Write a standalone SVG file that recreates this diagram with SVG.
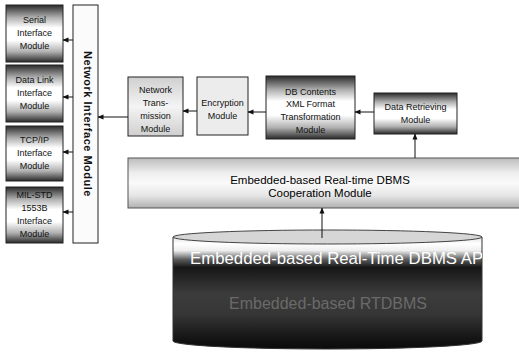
<svg xmlns="http://www.w3.org/2000/svg" width="519" height="359" viewBox="0 0 519 359">
  <defs>
    <linearGradient id="gDark" x1="0" y1="0" x2="0" y2="1">
      <stop offset="0" stop-color="#2a2a2a"/>
      <stop offset="0.22" stop-color="#b0b0b0"/>
      <stop offset="0.4" stop-color="#ffffff"/>
      <stop offset="0.62" stop-color="#ffffff"/>
      <stop offset="0.82" stop-color="#b0b0b0"/>
      <stop offset="1" stop-color="#2a2a2a"/>
    </linearGradient>
    <linearGradient id="gLight" x1="0" y1="0" x2="0" y2="1">
      <stop offset="0" stop-color="#cfcfcf"/>
      <stop offset="0.5" stop-color="#f4f4f4"/>
      <stop offset="1" stop-color="#cfcfcf"/>
    </linearGradient>
    <linearGradient id="gCoop" x1="0" y1="0" x2="0" y2="1">
      <stop offset="0" stop-color="#bcbcbc"/>
      <stop offset="0.3" stop-color="#eeeeee"/>
      <stop offset="0.5" stop-color="#fafafa"/>
      <stop offset="0.75" stop-color="#e6e6e6"/>
      <stop offset="1" stop-color="#b0b0b0"/>
    </linearGradient>
    <linearGradient id="gDb" gradientUnits="userSpaceOnUse" x1="0" y1="237" x2="0" y2="350">
      <stop offset="0" stop-color="#e4e4e4"/>
      <stop offset="0.06" stop-color="#ffffff"/>
      <stop offset="0.12" stop-color="#eeeeee"/>
      <stop offset="0.2" stop-color="#5a5a5a"/>
      <stop offset="0.27" stop-color="#161616"/>
      <stop offset="0.5" stop-color="#3c3c3c"/>
      <stop offset="0.68" stop-color="#363636"/>
      <stop offset="0.9" stop-color="#141414"/>
      <stop offset="1" stop-color="#0a0a0a"/>
    </linearGradient>
    <clipPath id="dbClip">
      <rect x="173" y="230" width="309" height="125"/>
    </clipPath>
    <marker id="arr" markerWidth="6" markerHeight="6" refX="5.5" refY="3" orient="auto" markerUnits="userSpaceOnUse">
      <path d="M0,0.5 L6,3 L0,5.5 Z" fill="#111"/>
    </marker>
    <style>
      .box { stroke: #222; stroke-width: 1; }
      .t { font-family: "Liberation Sans", Arial, sans-serif; font-size: 9px; fill: #111; text-anchor: middle; }
      .big { font-family: "Liberation Sans", Arial, sans-serif; font-size: 11.5px; fill: #000; text-anchor: middle; }
      .conn { stroke: #111; stroke-width: 1; fill: none; marker-end: url(#arr); }
    </style>
  </defs>

  <rect width="519" height="359" fill="#ffffff"/>

  <!-- interface modules on the left -->
  <g id="serial">
    <rect class="box" x="6" y="5" width="57" height="57" fill="url(#gDark)"/>
    <text class="t" x="34.5" y="23">Serial</text>
    <text class="t" x="34.5" y="36">Interface</text>
    <text class="t" x="34.5" y="49">Module</text>
  </g>
  <g id="datalink">
    <rect class="box" x="6" y="65" width="57" height="57" fill="url(#gDark)"/>
    <text class="t" x="34.5" y="83">Data Link</text>
    <text class="t" x="34.5" y="96">Interface</text>
    <text class="t" x="34.5" y="109">Module</text>
  </g>
  <g id="tcpip">
    <rect class="box" x="6" y="126" width="57" height="55" fill="url(#gDark)"/>
    <text class="t" x="34.5" y="143">TCP/IP</text>
    <text class="t" x="34.5" y="156">Interface</text>
    <text class="t" x="34.5" y="169">Module</text>
  </g>
  <g id="milstd">
    <rect class="box" x="6" y="187" width="57" height="56" fill="url(#gDark)"/>
    <text class="t" x="34.5" y="198">MIL-STD</text>
    <text class="t" x="34.5" y="211">1553B</text>
    <text class="t" x="34.5" y="224">Interface</text>
    <text class="t" x="34.5" y="237">Module</text>
  </g>

  <!-- network interface bar -->
  <g id="netif">
    <rect x="73" y="5" width="25" height="238" fill="#fbfbfb" stroke="#222" stroke-width="1"/>
    <text x="0" y="0" transform="translate(84,124) rotate(90)" style="font-family: 'Liberation Sans', Arial, sans-serif; font-size: 11px; letter-spacing: 0.5px; font-weight: bold; fill: #111; text-anchor: middle;">Network Interface  Module</text>
  </g>

  <!-- processing chain -->
  <g id="nettrans">
    <rect class="box" x="128" y="77" width="55" height="59" fill="url(#gLight)"/>
    <text class="t" x="155.5" y="93">Network</text>
    <text class="t" x="155.5" y="106">Trans-</text>
    <text class="t" x="155.5" y="119">mission</text>
    <text class="t" x="155.5" y="132">Module</text>
  </g>
  <g id="encrypt">
    <rect class="box" x="197" y="77" width="51" height="58" fill="#ececec"/>
    <text class="t" x="222.5" y="106">Encryption</text>
    <text class="t" x="222.5" y="119">Module</text>
  </g>
  <g id="xmlconv">
    <rect class="box" x="266" y="76" width="89" height="63" fill="url(#gDark)"/>
    <text class="t" x="310.5" y="95">DB Contents</text>
    <text class="t" x="310.5" y="107">XML Format</text>
    <text class="t" x="310.5" y="120">Transformation</text>
    <text class="t" x="310.5" y="133">Module</text>
  </g>
  <g id="retrieve">
    <rect class="box" x="374" y="93" width="83" height="41" fill="url(#gDark)"/>
    <text class="t" x="415.5" y="110">Data Retrieving</text>
    <text class="t" x="415.5" y="123">Module</text>
  </g>

  <!-- cooperation layer -->
  <g id="coop">
    <rect x="128" y="158" width="395" height="50" fill="url(#gCoop)" stroke="#555" stroke-width="1"/>
    <text class="big" x="320" y="184">Embedded-based Real-time DBMS</text>
    <text class="big" x="320" y="197">Cooperation Module</text>
  </g>

  <!-- database cylinder -->
  <g id="rtdbms">
    <path d="M173,237 L173,341 A154.5,8 0 0 0 482,341 L482,237 Z" fill="url(#gDb)" stroke="#333" stroke-width="1"/>
    <ellipse cx="327.5" cy="237" rx="154.5" ry="7" fill="#d6d6d6" stroke="#444" stroke-width="1"/>
    <g clip-path="url(#dbClip)">
      <text x="190" y="264" style="font-family: 'Liberation Sans', Arial, sans-serif; font-size: 16.8px; fill: #ffffff;">Embedded-based Real-Time DBMS API</text>
    </g>
    <text x="328" y="309" style="font-family: 'Liberation Sans', Arial, sans-serif; font-size: 16px; fill: #6a6a6a; text-anchor: middle;">Embedded-based RTDBMS</text>
  </g>

  <!-- connectors -->
  <g id="connectors">
    <line class="conn" x1="73" y1="40" x2="63" y2="40"/>
    <line class="conn" x1="73" y1="97" x2="63" y2="97"/>
    <line class="conn" x1="73" y1="152" x2="63" y2="152"/>
    <line class="conn" x1="73" y1="212" x2="63" y2="212"/>
    <line class="conn" x1="128" y1="117" x2="98" y2="117"/>
    <line class="conn" x1="197" y1="111" x2="183" y2="111"/>
    <line class="conn" x1="266" y1="112" x2="248" y2="112"/>
    <line class="conn" x1="374" y1="112" x2="355" y2="112"/>
    <line class="conn" x1="415" y1="158" x2="415" y2="134"/>
    <line class="conn" x1="322" y1="238" x2="322" y2="208"/>
  </g>
</svg>
